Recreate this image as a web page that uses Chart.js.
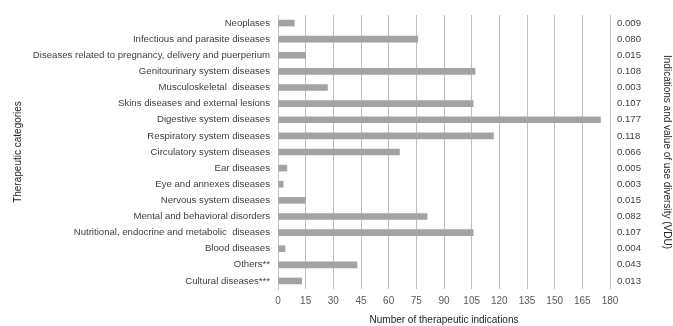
<!DOCTYPE html>
<html>
<head>
<meta charset="utf-8">
<script src="https://cdn.jsdelivr.net/npm/chart.js@4.4.1/dist/chart.umd.min.js"></script>
<style>
  html, body { margin: 0; padding: 0; background: #ffffff; }
  #wrap { width: 673px; height: 326px; position: relative; }
</style>
</head>
<body>
<div id="wrap"><canvas id="c" width="673" height="326"></canvas></div>
<script>
const categories = [
  "Neoplases",
  "Infectious and parasite diseases",
  "Diseases related to pregnancy, delivery and puerperium",
  "Genitourinary system diseases",
  "Musculoskeletal  diseases",
  "Skins diseases and external lesions",
  "Digestive system diseases",
  "Respiratory system diseases",
  "Circulatory system diseases",
  "Ear diseases",
  "Eye and annexes diseases",
  "Nervous system diseases",
  "Mental and behavioral disorders",
  "Nutritional, endocrine and metabolic  diseases",
  "Blood diseases",
  "Others**",
  "Cultural diseases***"
];
const indications = [9, 76, 15, 107, 27, 106, 175, 117, 66, 5, 3, 15, 81, 106, 4, 43, 13];
const vduLabels = ["0.009", "0.080", "0.015", "0.108", "0.003", "0.107", "0.177", "0.118", "0.066", "0.005", "0.003", "0.015", "0.082", "0.107", "0.004", "0.043", "0.013"];
const xTicks = [0, 15, 30, 45, 60, 75, 90, 105, 120, 135, 150, 165, 180];

const FONT = "'Liberation Sans', Arial, sans-serif";

new Chart(document.getElementById('c'), {
  type: 'bar',
  data: {
    labels: categories,
    datasets: [{
      data: indications,
      backgroundColor: '#a3a3a3',
      borderWidth: 0,
      barPercentage: 0.82,
      categoryPercentage: 0.5,
      yAxisID: 'y',
      xAxisID: 'x'
    }]
  },
  options: {
    indexAxis: 'y',
    responsive: false,
    animation: false,
    devicePixelRatio: 1,
    layout: { padding: { top: 15, left: 0, right: 0, bottom: 0 } },
    plugins: { legend: { display: false }, tooltip: { enabled: false } },
    scales: {
      x: {
        type: 'linear',
        position: 'bottom',
        min: 0,
        max: 180,
        afterBuildTicks: s => { s.ticks = xTicks.map(v => ({ value: v })); },
        ticks: { color: '#595959', font: { family: FONT, size: 10 }, padding: 6 },
        grid: { color: '#bfbfbf', lineWidth: 1, drawTicks: false },
        border: { display: false },
        title: {
          display: true,
          text: 'Number of therapeutic indications',
          color: '#262626',
          font: { family: FONT, size: 10 },
          padding: { top: 6, bottom: 0 }
        },
        afterFit: s => { s.height = 37; }
      },
      y: {
        type: 'category',
        position: 'left',
        ticks: { color: '#404040', font: { family: FONT, size: 9.6 }, padding: 8, autoSkip: false },
        grid: { display: false, drawTicks: false },
        border: { display: true, color: '#bfbfbf' },
        title: {
          display: true,
          text: 'Therapeutic categories',
          color: '#262626',
          font: { family: FONT, size: 10 },
          padding: { top: 12, bottom: 0 }
        },
        afterFit: s => { s.width = 278; }
      },
      y2: {
        type: 'category',
        position: 'right',
        labels: vduLabels,
        offset: true,
        ticks: { color: '#404040', font: { family: FONT, size: 9.6 }, padding: 7, autoSkip: false },
        grid: { display: false, drawTicks: false },
        border: { display: false },
        title: {
          display: true,
          text: 'Indications and value of use diversity (VDU)',
          color: '#262626',
          font: { family: FONT, size: 10 },
          padding: { top: 0, bottom: 3 }
        },
        afterFit: s => { s.width = 63; }
      }
    }
  }
});
</script>
</body>
</html>
